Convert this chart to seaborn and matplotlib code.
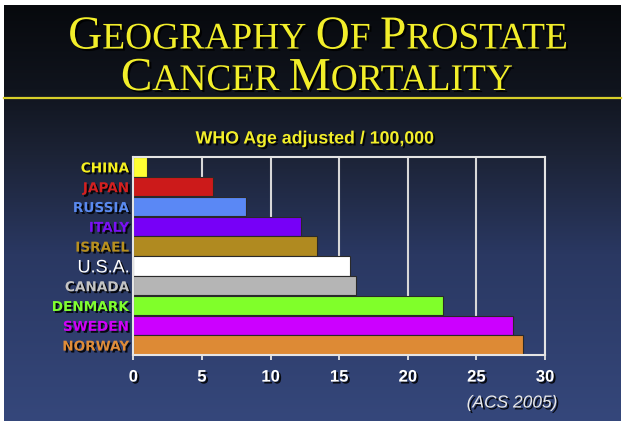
import matplotlib
matplotlib.use("Agg")
import matplotlib.pyplot as plt
import matplotlib.patheffects as pe
from matplotlib.colors import LinearSegmentedColormap
from matplotlib.lines import Line2D
import numpy as np
import pandas as pd
import seaborn as sns

# data
countries = ["CHINA", "JAPAN", "RUSSIA", "ITALY", "ISRAEL",
             "U.S.A.", "CANADA", "DENMARK", "SWEDEN", "NORWAY"]
rates = [1.0, 5.8, 8.2, 12.2, 13.4, 15.8, 16.2, 22.6, 27.7, 28.4]
bar_colors = ["#ffff33", "#cc1a1a", "#5a88f5", "#7700f7", "#b08a20",
              "#ffffff", "#b5b5b5", "#80ff2a", "#cc00ff", "#dd8a35"]
label_colors = ["#f5f020", "#d42020", "#5a8af0", "#7a10f5", "#b8901e",
                "#ffffff", "#c4c4c4", "#80ff30", "#d000f8", "#e08c38"]
x_ticks = [0, 5, 10, 15, 20, 25, 30]

title_lines = ["GEOGRAPHY OF PROSTATE", "CANCER MORTALITY"]
subtitle = "WHO Age adjusted / 100,000"
source = "(ACS 2005)"

W, H = 625, 421
YELLOW = "#f2ee2a"
shadow = [pe.withSimplePatchShadow(offset=(1.4, -1.4), shadow_rgbFace="black", alpha=0.85)]

fig = plt.figure(figsize=(W / 100, H / 100), dpi=100, facecolor="white")

# slide background gradient
bg = fig.add_axes([4 / W, 0, 617 / W, 416 / H], zorder=0)
cmap = LinearSegmentedColormap.from_list(
    "slide", [(0.0, "#07090d"), (0.2, "#10141d"), (0.36, "#1c2336"),
              (0.6, "#2a3862"), (1.0, "#35477b")])
bg.imshow(np.linspace(0, 1, 256).reshape(-1, 1), cmap=cmap, aspect="auto",
          extent=[0, 1, 0, 1])
bg.set_axis_off()

fig.add_artist(Line2D([4 / W, 621 / W], [1 - 98 / H, 1 - 98 / H],
                      color="#d8cf2a", lw=1.6, zorder=3))

renderer = fig.canvas.get_renderer()


def smallcaps(text, xc, yb, big, small):
    # draw a line of small caps centred on xc (pixels), baseline yb (pixels from top)
    runs = []
    for word_i, word in enumerate(text.split(" ")):
        if word_i:
            runs.append((" ", small))
        runs.append((word[0], big))
        if len(word) > 1:
            runs.append((word[1:], small))
    arts = []
    for s, size in runs:
        t = fig.text(0, 0, s, fontsize=size, family="Liberation Serif", color=YELLOW,
                     va="baseline", ha="left", path_effects=[
                         pe.withSimplePatchShadow(offset=(1.5, -1.5), shadow_rgbFace="black",
                                                  alpha=0.9)])
        arts.append(t)
    widths = []
    for t, (s, size) in zip(arts, runs):
        if s == " ":
            widths.append(size * 0.25 * 100 / 72)
        else:
            widths.append(t.get_window_extent(renderer).width)
    x = xc - sum(widths) / 2
    for t, w in zip(arts, widths):
        t.set_position((x / W, 1 - yb / H))
        x += w


smallcaps(title_lines[0], 318, 48.5, 34, 27)
smallcaps(title_lines[1], 317, 90, 34, 27)

fig.text(315 / W, 1 - 139 / H, subtitle, fontsize=12.8, fontweight="bold",
         family="Liberation Sans", color=YELLOW, ha="center", va="center",
         path_effects=shadow)

ax = fig.add_axes([133.3 / W, 66 / H, 411.7 / W, 198 / H], zorder=2)
ax.patch.set_alpha(0)

df = pd.DataFrame({"country": countries, "rate": rates})
sns.barplot(data=df, x="rate", y="country", hue="country",
            palette=dict(zip(countries, bar_colors)), legend=False,
            saturation=1, width=0.97, edgecolor="#2a2a2a", linewidth=0.8, ax=ax)

ax.set_xlim(0, 30)
ax.set_xticks(x_ticks)
ax.set_xlabel("")
ax.set_ylabel("")
ax.set_axisbelow(True)
ax.xaxis.grid(True, color="#d8d8d8", lw=1.5)
for sp in ax.spines.values():
    sp.set_color("#e4e4e4")
    sp.set_linewidth(1.5)

ax.tick_params(axis="x", direction="inout", length=7, width=1.3, color="#e4e4e4",
               pad=7, labelcolor="white")
ax.tick_params(axis="y", length=0, pad=3)
for lab in ax.get_xticklabels():
    lab.set_fontsize(12)
    lab.set_fontweight("bold")
    lab.set_family("Liberation Sans")
    lab.set_path_effects(shadow)

ax.set_yticks(range(len(countries)))
ax.set_yticklabels(countries)
for lab, c in zip(ax.get_yticklabels(), label_colors):
    lab.set_color(c)
    lab.set_path_effects(shadow)
    if lab.get_text() == "U.S.A.":
        lab.set_fontsize(13)
        lab.set_fontweight("medium")
        lab.set_family("Liberation Sans")
    else:
        lab.set_fontsize(9.8)
        lab.set_fontweight("bold")
        lab.set_family("DejaVu Sans")

fig.text(512 / W, 1 - 403 / H, source, fontsize=12.5, style="italic",
         family="Liberation Sans", color="#e8e8e8", ha="center", va="center",
         path_effects=shadow)

fig.savefig("out.png", dpi=100, facecolor="white")
